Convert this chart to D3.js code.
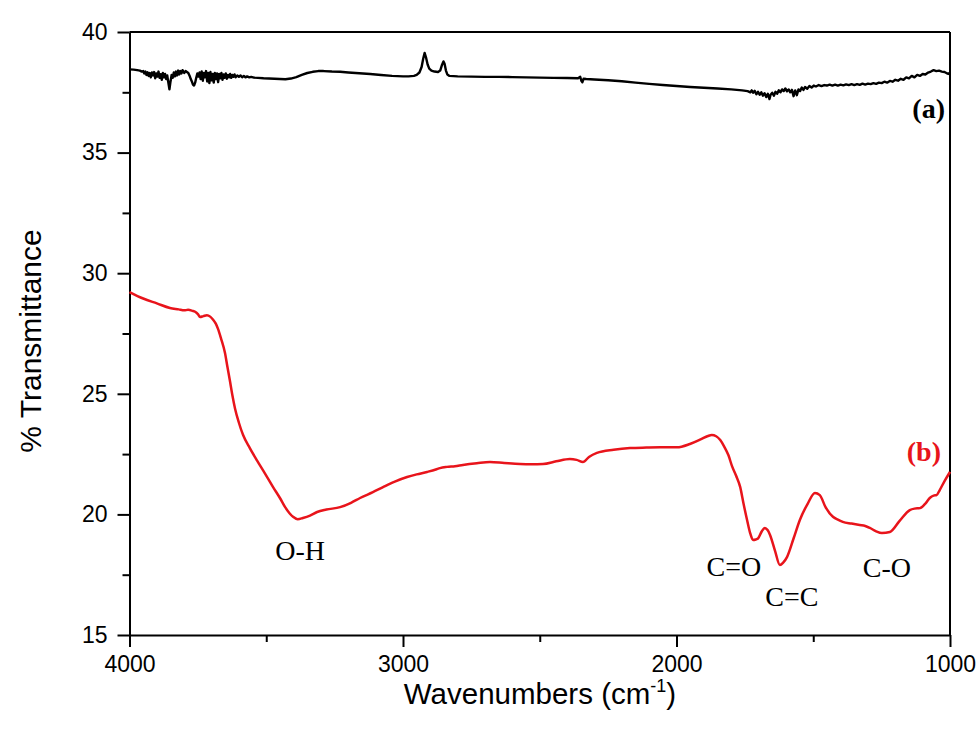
<!DOCTYPE html>
<html>
<head>
<meta charset="utf-8">
<script src="https://cdn.jsdelivr.net/npm/d3@7"></script>
<style>
  html, body { margin: 0; padding: 0; background: #fff; }
  svg { display: block; }
</style>
</head>
<body>
<svg id="chart" width="980" height="734"></svg>
<script>
// FTIR spectra: % transmittance vs. wavenumber (cm-1)

// Spectrum (a), black trace: [wavenumber, %T]
const spectrumA = [
  [4000,38.45],[3985,38.44],[3972,38.42],[3962,38.40],[3955,38.36],[3950,38.38],[3946,38.28],[3942,38.36],
  [3938,38.22],[3934,38.33],[3930,38.18],[3926,38.30],[3922,38.12],[3918,38.32],[3914,38.20],[3910,38.34],
  [3906,38.08],[3902,38.28],[3898,38.15],[3894,38.36],[3890,38.10],[3886,38.25],[3882,38.02],[3878,38.30],
  [3874,38.12],[3870,38.26],[3866,38.05],[3862,38.20],[3858,37.90],[3854,37.62],[3850,37.95],[3846,38.22],
  [3842,38.10],[3838,38.32],[3834,38.16],[3830,38.36],[3826,38.20],[3822,38.40],[3818,38.24],[3814,38.38],
  [3810,38.28],[3806,38.42],[3800,38.30],[3795,38.38],[3790,38.34],[3785,38.30],[3780,38.18],[3776,38.05],
  [3772,37.95],[3768,37.82],[3764,37.78],[3760,37.90],[3756,38.10],[3752,38.28],[3748,38.15],[3744,38.32],
  [3740,38.05],[3736,38.36],[3732,37.98],[3728,38.30],[3724,38.12],[3720,38.38],[3716,37.95],[3712,38.30],
  [3708,37.88],[3704,38.34],[3700,38.00],[3696,38.26],[3692,37.90],[3688,38.30],[3684,38.05],[3680,38.28],
  [3676,37.92],[3672,38.26],[3668,38.08],[3664,38.30],[3660,38.02],[3656,38.24],[3652,38.10],[3648,38.28],
  [3644,38.06],[3640,38.22],[3636,38.12],[3632,38.26],[3628,38.10],[3624,38.22],[3620,38.14],[3616,38.24],
  [3612,38.12],[3606,38.20],[3600,38.14],[3594,38.20],[3588,38.12],[3582,38.18],[3576,38.12],[3570,38.16],
  [3562,38.12],[3555,38.14],[3545,38.11],[3530,38.10],[3510,38.08],[3490,38.07],[3470,38.06],[3450,38.05],
  [3430,38.04],[3410,38.07],[3390,38.13],[3370,38.22],[3350,38.30],[3330,38.35],[3310,38.38],[3290,38.38],
  [3260,38.36],[3230,38.35],[3200,38.32],[3160,38.29],[3120,38.26],[3080,38.22],[3040,38.18],[3000,38.16],
  [2980,38.16],[2960,38.18],[2950,38.22],[2940,38.32],[2932,38.55],[2926,38.90],[2921,39.13],[2916,38.95],
  [2910,38.65],[2904,38.48],[2896,38.40],[2885,38.36],[2872,38.34],[2864,38.40],[2858,38.62],[2852,38.78],
  [2848,38.68],[2843,38.40],[2838,38.24],[2830,38.18],[2800,38.16],[2750,38.15],[2700,38.14],[2650,38.14],
  [2600,38.13],[2550,38.12],[2500,38.11],[2450,38.10],[2400,38.09],[2360,38.08],[2352,38.14],[2348,37.98],
  [2344,37.92],[2340,38.06],[2330,38.05],[2300,38.03],[2250,38.00],[2200,37.96],[2150,37.90],[2100,37.85],
  [2050,37.80],[2000,37.76],[1950,37.72],[1900,37.69],[1850,37.66],[1800,37.62],[1760,37.58],[1740,37.55],
  [1730,37.50],[1725,37.58],[1720,37.48],[1714,37.56],[1708,37.42],[1702,37.52],[1696,37.40],[1690,37.50],
  [1684,37.36],[1678,37.46],[1672,37.30],[1666,37.44],[1660,37.22],[1656,37.40],[1650,37.48],[1644,37.36],
  [1638,37.52],[1632,37.44],[1626,37.58],[1620,37.50],[1614,37.62],[1608,37.55],[1602,37.66],[1596,37.54],
  [1590,37.62],[1584,37.50],[1578,37.60],[1572,37.34],[1566,37.58],[1560,37.38],[1554,37.62],[1548,37.55],
  [1542,37.70],[1536,37.60],[1530,37.72],[1522,37.65],[1514,37.76],[1506,37.70],[1498,37.78],[1490,37.74],
  [1480,37.80],[1470,37.76],[1460,37.80],[1450,37.78],[1440,37.82],[1430,37.78],[1420,37.82],[1410,37.78],
  [1400,37.82],[1390,37.79],[1380,37.83],[1370,37.80],[1360,37.84],[1350,37.80],[1340,37.84],[1330,37.81],
  [1320,37.86],[1310,37.82],[1300,37.86],[1290,37.84],[1280,37.88],[1270,37.85],[1260,37.90],[1250,37.88],
  [1240,37.94],[1230,37.90],[1220,37.97],[1210,37.94],[1200,38.02],[1190,37.98],[1180,38.06],[1170,38.02],
  [1160,38.12],[1150,38.08],[1140,38.18],[1130,38.12],[1120,38.22],[1110,38.18],[1100,38.26],[1090,38.24],
  [1080,38.32],[1070,38.36],[1060,38.42],[1050,38.38],[1040,38.40],[1030,38.36],[1020,38.34],[1010,38.28],
  [1004,38.26],[1000,38.32]
];

// Spectrum (b), red trace: [wavenumber, %T]
const spectrumB = [
  [4000,29.22],[3950,28.95],[3900,28.75],[3852,28.56],[3820,28.50],[3800,28.46],[3786,28.48],[3770,28.44],
  [3760,28.40],[3750,28.30],[3742,28.18],[3730,28.22],[3717,28.26],[3705,28.20],[3695,28.08],[3685,27.92],
  [3676,27.68],[3665,27.28],[3651,26.70],[3642,26.12],[3633,25.55],[3624,24.95],[3614,24.38],[3600,23.80],
  [3585,23.30],[3560,22.75],[3534,22.24],[3505,21.70],[3475,21.13],[3450,20.68],[3431,20.30],[3415,20.05],
  [3402,19.90],[3385,19.80],[3366,19.85],[3340,19.95],[3314,20.10],[3280,20.20],[3230,20.30],[3190,20.48],
  [3157,20.68],[3110,20.92],[3073,21.13],[3030,21.36],[2985,21.55],[2950,21.66],[2912,21.76],[2880,21.86],
  [2865,21.92],[2839,21.97],[2810,22.00],[2781,22.05],[2730,22.12],[2682,22.17],[2630,22.13],[2572,22.09],
  [2530,22.08],[2488,22.09],[2440,22.20],[2390,22.30],[2365,22.26],[2342,22.17],[2320,22.38],[2291,22.55],
  [2230,22.68],[2170,22.75],[2110,22.77],[2060,22.78],[1998,22.78],[1951,22.92],[1910,23.12],[1885,23.25],
  [1871,23.29],[1855,23.24],[1840,23.08],[1825,22.80],[1810,22.45],[1797,22.00],[1782,21.60],[1767,21.13],
  [1755,20.45],[1742,19.77],[1730,19.20],[1720,18.94],[1710,18.96],[1702,19.00],[1688,19.30],[1677,19.44],
  [1667,19.35],[1658,19.15],[1640,18.50],[1622,17.90],[1610,18.00],[1596,18.23],[1572,19.00],[1549,19.77],
  [1520,20.45],[1494,20.89],[1476,20.80],[1455,20.30],[1428,19.90],[1410,19.78],[1392,19.69],[1360,19.62],
  [1330,19.56],[1310,19.52],[1293,19.44],[1270,19.30],[1249,19.23],[1220,19.27],[1185,19.72],[1147,20.18],
  [1130,20.24],[1110,20.26],[1090,20.45],[1074,20.68],[1060,20.78],[1049,20.80],[1038,21.00],[1020,21.38],
  [1000,21.76]
];

// Axis ticks
const xMajorTicks = [4000, 3000, 2000, 1000];
const xMinorTicks = [3500, 2500, 1500];
const yMajorTicks = [15, 20, 25, 30, 35, 40];
const yMinorTicks = [17.5, 22.5, 27.5, 32.5, 37.5];

// Band assignments on spectrum (b): [label, wavenumber, %T position]
const bandLabels = [
  ["O-H", 3376, 18.1],
  ["C=O", 1790, 17.45],
  ["C=C", 1578, 16.2],
  ["C-O", 1231, 17.4]
];

const svg = d3.select("#chart");
const plot = { left: 129.5, right: 950, top: 32, bottom: 635 };

const x = d3.scaleLinear().domain([4000, 1000]).range([plot.left, plot.right]);
const y = d3.scaleLinear().domain([15, 40]).range([plot.bottom, plot.top]);

const axisFont = "'Liberation Sans', Arial, sans-serif";
const serifFont = "'Liberation Serif', 'Times New Roman', serif";

// Frame: top and right edges
svg.append("line")
  .attr("x1", plot.left).attr("x2", plot.right)
  .attr("y1", plot.top).attr("y2", plot.top)
  .attr("stroke", "#000").attr("stroke-width", 2);
svg.append("line")
  .attr("x1", plot.right).attr("x2", plot.right)
  .attr("y1", plot.top).attr("y2", plot.bottom)
  .attr("stroke", "#000").attr("stroke-width", 2);

// Minor ticks
svg.append("g")
  .attr("transform", `translate(0,${plot.bottom})`)
  .call(d3.axisBottom(x).tickValues(xMinorTicks).tickSize(7).tickFormat(""))
  .call(g => g.select(".domain").remove())
  .call(g => g.selectAll("line").attr("stroke-width", 2));
svg.append("g")
  .attr("transform", `translate(${plot.left},0)`)
  .call(d3.axisLeft(y).tickValues(yMinorTicks).tickSize(7).tickFormat(""))
  .call(g => g.select(".domain").remove())
  .call(g => g.selectAll("line").attr("stroke-width", 2));

// Major axes
const xAxis = svg.append("g")
  .attr("transform", `translate(0,${plot.bottom})`)
  .call(d3.axisBottom(x).tickValues(xMajorTicks).tickSize(12).tickSizeOuter(0).tickPadding(9).tickFormat(d3.format("d")));
const yAxis = svg.append("g")
  .attr("transform", `translate(${plot.left},0)`)
  .call(d3.axisLeft(y).tickValues(yMajorTicks).tickSize(12).tickSizeOuter(0).tickPadding(10).tickFormat(d3.format("d")));

[xAxis, yAxis].forEach(g => {
  g.select(".domain").attr("stroke-width", 2);
  g.selectAll(".tick line").attr("stroke-width", 2);
  g.selectAll(".tick text")
    .attr("font-family", axisFont)
    .attr("font-size", 23)
    .attr("fill", "#000");
});

// Axis titles
const xTitle = svg.append("text")
  .attr("x", 540).attr("y", 704)
  .attr("text-anchor", "middle")
  .attr("font-family", axisFont)
  .attr("font-size", 29.5)
  .attr("fill", "#000");
xTitle.append("tspan").text("Wavenumbers (cm");
xTitle.append("tspan").attr("dy", -12).attr("font-size", 18).text("-1");
xTitle.append("tspan").attr("dy", 12).text(")");

svg.append("text")
  .attr("transform", "translate(41,341) rotate(-90)")
  .attr("text-anchor", "middle")
  .attr("font-family", axisFont)
  .attr("font-size", 30)
  .attr("fill", "#000")
  .text("% Transmittance");

// Spectra
const line = d3.line()
  .x(d => x(d[0]))
  .y(d => y(d[1]));

svg.append("path")
  .datum(spectrumA)
  .attr("fill", "none")
  .attr("stroke", "#000")
  .attr("stroke-width", 2.4)
  .attr("stroke-linejoin", "round")
  .attr("d", line);

svg.append("path")
  .datum(spectrumB)
  .attr("fill", "none")
  .attr("stroke", "#e8141b")
  .attr("stroke-width", 2.5)
  .attr("stroke-linejoin", "round")
  .attr("d", line.curve(d3.curveMonotoneX));

// Band labels
svg.selectAll("text.band")
  .data(bandLabels)
  .join("text")
  .attr("class", "band")
  .attr("x", d => x(d[1]))
  .attr("y", d => y(d[2]))
  .attr("text-anchor", "middle")
  .attr("font-family", serifFont)
  .attr("font-size", 28)
  .attr("fill", "#000")
  .text(d => d[0]);

// Trace identifiers
svg.append("text")
  .attr("x", 945).attr("y", 118)
  .attr("text-anchor", "end")
  .attr("font-family", serifFont)
  .attr("font-weight", "bold")
  .attr("font-size", 28)
  .attr("fill", "#000")
  .text("(a)");
svg.append("text")
  .attr("x", 941).attr("y", 461)
  .attr("text-anchor", "end")
  .attr("font-family", serifFont)
  .attr("font-weight", "bold")
  .attr("font-size", 28)
  .attr("fill", "#e8141b")
  .text("(b)");
</script>
</body>
</html>
